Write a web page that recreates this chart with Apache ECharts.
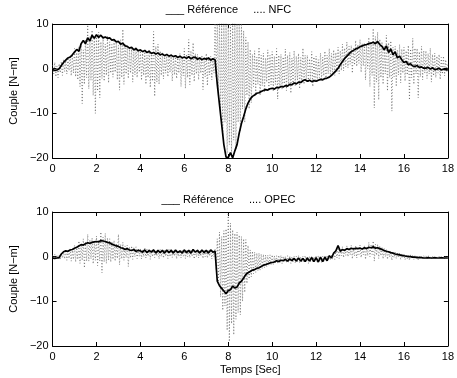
<!DOCTYPE html>
<html>
<head>
<meta charset="utf-8">
<script src="https://cdn.jsdelivr.net/npm/echarts@6/dist/echarts.min.js"></script>
<style>
  html, body { margin: 0; padding: 0; background: #fff; }
  #chart { width: 457px; height: 378px; }
</style>
</head>
<body>
<div id="chart"></div>
<script>
// Sampling grids: reference signals every 0.1 s, controller outputs every 0.05 s
const time = Array.from({ length: 181 }, (_, i) => +(i * 0.1).toFixed(2));
const timeFine = Array.from({ length: 361 }, (_, i) => +(i * 0.05).toFixed(2));

const xTicks = [0, 2, 4, 6, 8, 10, 12, 14, 16, 18];
const yTicks = [-20, -10, 0, 10];

// Upper plot: reference torque (N-m), 0.1 s
const refTop = [
  -0.2, -0.4, -0.3, 0.0, 0.7, 1.4, 1.9, 2.4, 2.6, 3.1,
  3.7, 4.3, 3.9, 5.6, 6.3, 5.6, 6.9, 6.2, 7.5, 6.8,
  7.6, 7.0, 7.5, 6.9, 7.1, 6.8, 6.9, 6.4, 6.5, 6.0,
  6.1, 5.5, 5.7, 5.1, 5.0, 4.6, 4.8, 4.2, 4.5, 4.0,
  4.2, 3.8, 4.1, 3.6, 3.9, 3.4, 3.6, 3.3, 3.5, 3.1,
  3.3, 2.9, 3.2, 2.8, 3.0, 2.7, 2.9, 2.5, 2.8, 2.4,
  2.6, 2.3, 2.7, 2.2, 2.5, 2.6, 2.1, 2.4, 2.0, 2.3,
  2.1, 2.4, 1.9, 2.2, 2.0, -3.5, -8.0, -12.5, -17.0, -19.8,
  -19.9, -18.8, -20.0, -18.4, -17.0, -14.4, -12.3, -10.7, -9.0, -7.7,
  -6.8, -6.2, -5.9, -5.5, -5.4, -5.1, -4.9, -4.7, -4.8, -4.5,
  -4.4, -4.6, -4.2, -4.3, -4.0, -4.1, -3.8, -3.9, -3.5, -3.6,
  -3.2, -3.4, -3.0, -3.1, -2.7, -2.5, -2.8, -2.6, -2.9, -2.7,
  -2.8, -2.6, -2.4, -2.5, -2.2, -2.1, -1.9, -1.5, -1.0, -0.5,
  0.1, 0.9, 1.6, 2.3, 2.8, 3.3, 3.8, 4.1, 4.4, 4.6,
  4.9, 5.1, 5.3, 5.4, 5.6, 5.7, 5.9, 5.6, 6.1, 5.4,
  5.0, 4.2, 5.1, 3.6, 4.4, 3.1, 3.8, 2.4, 2.8, 2.0,
  1.4, 1.6, 0.9, 1.1, 0.6, 0.5, 0.7, 0.3, 0.4, 0.1,
  0.1, 0.3, -0.1, 0.2, -0.2, -0.1, 0.1, -0.3, -0.1, -0.2,
  -0.3
];

// Upper plot: NFC controller torque (N-m), 0.05 s
const nfc = [
  0.8, -1.2, 1.4, -1.8, 0.6, -2.0, 1.1, -0.9, 1.6, -1.5, 2.0, -0.6, 1.8, -1.2, 2.4, -0.4, 2.9, -1.6, 3.2, -1.0,
  4.5, -1.8, 3.6, -2.5, 5.0, -4.0, 5.5, -7.8, 4.2, -3.5, 6.5, -2.0, 9.8, -4.5, 7.2, -2.6, 8.6, -6.0, 7.0, -10.0,
  7.8, -5.0, 8.2, -6.5, 6.0, -2.2, 6.8, -2.8, 5.5, -1.5, 7.4, -3.2, 6.0, -1.0, 5.4, -1.9, 6.2, -0.8, 5.8, -2.5,
  5.2, -4.8, 6.5, -2.0, 8.8, -3.5, 5.6, -1.2, 5.0, -2.2, 4.4, -1.0, 4.6, -3.0, 3.8, -1.4, 4.8, -2.0, 4.0, -0.8,
  4.0, -2.6, 3.4, -1.5, 3.8, -3.5, 3.0, -2.0, 4.2, -4.2, 3.6, -2.8, 8.3, -6.2, 5.0, -3.0, 5.5, -3.5, 4.0, -1.5,
  3.6, -2.3, 3.0, -1.0, 3.2, -1.8, 2.6, -0.8, 3.4, -2.8, 2.8, -1.4, 3.0, -2.2, 2.4, -1.0, 3.4, -4.0, 2.8, -1.6,
  4.5, -4.4, 3.2, -2.0, 6.5, -3.6, 4.0, -1.5, 5.8, -2.9, 3.4, -1.2, 3.2, -2.5, 2.6, -1.0, 3.0, -4.7, 2.4, -1.8,
  3.4, -3.8, 2.6, -1.4, 2.8, -2.5, 2.2, -1.0, 10.5, -2.0, 10.5, -6.0, 10.5, -10.0, 10.5, -15.0, 10.5, -12.0, 10.5, -19.0,
  10.5, -17.0, 10.5, -19.5, 10.5, -16.0, 10.5, -18.0, 10.5, -12.0, 10.5, -14.0, 10.5, -9.0, 8.5, -12.0, 7.0, -6.0, 6.0, -9.0,
  4.3, -7.6, 3.2, -4.0, 4.0, -5.5, 2.6, -3.5, 4.8, -6.0, 3.0, -3.8, 3.5, -5.2, 2.4, -3.0, 4.2, -4.8, 3.0, -3.6,
  3.8, -5.0, 2.8, -3.5, 4.5, -6.8, 3.0, -4.2, 3.2, -4.6, 2.6, -3.4, 4.4, -4.9, 3.0, -3.8, 3.6, -5.5, 2.4, -3.2,
  4.0, -3.8, 2.8, -2.6, 3.4, -4.5, 2.5, -3.0, 4.6, -3.5, 3.0, -2.4, 3.0, -3.2, 2.2, -2.2, 3.8, -4.0, 2.6, -2.5,
  2.8, -3.0, 2.0, -2.0, 3.5, -2.6, 2.6, -1.6, 3.9, -2.4, 3.0, -1.2, 4.5, -1.8, 3.4, -0.8, 4.2, -1.5, 3.6, -0.6,
  4.8, -1.2, 4.0, -0.4, 5.5, -0.5, 4.6, 0.4, 6.0, 0.2, 5.0, 1.0, 5.2, -1.0, 4.6, 0.8, 6.3, 0.5, 5.4, 1.2,
  6.5, -0.8, 5.6, 0.6, 5.8, -2.5, 5.2, 0.0, 7.0, -4.0, 6.0, -1.5, 9.0, -8.8, 7.2, -3.0, 8.2, -7.0, 6.6, -2.0,
  6.0, -3.5, 5.2, -1.2, 7.5, -5.0, 5.8, -2.0, 6.2, -9.5, 4.8, -1.8, 5.0, -4.0, 4.2, -1.4, 5.4, -3.2, 4.4, -1.0,
  4.8, -2.8, 4.0, -1.4, 5.2, -7.0, 4.4, -2.0, 6.8, -3.5, 4.6, -1.2, 4.5, -6.5, 3.8, -1.8, 5.0, -2.5, 4.0, -1.0,
  4.0, -2.2, 3.4, -1.2, 4.6, -3.0, 3.2, -1.6, 3.5, -2.0, 2.8, -1.0, 3.2, -2.4, 2.5, -1.2, 2.8, -1.6, 2.0, -0.8,
  1.0
];

// Lower plot: reference torque (N-m), 0.1 s
const refBottom = [
  -0.3, -0.4, -0.3, -0.2, 0.6, 1.1, 1.3, 1.2, 1.5, 1.6,
  1.9, 2.1, 2.4, 2.7, 2.6, 2.9, 3.1, 3.0, 3.2, 3.3,
  3.4, 3.3, 3.6, 3.5, 3.4, 3.2, 3.1, 2.8, 2.6, 2.4,
  2.3, 2.0, 1.9, 1.6, 1.8, 1.5, 1.4, 1.6, 1.2, 1.4,
  1.3, 1.0, 1.5, 0.9, 1.4, 1.0, 1.5, 0.8, 1.4, 0.9,
  1.4, 0.8, 1.5, 0.9, 1.4, 0.8, 1.5, 0.9, 1.3, 0.8,
  1.5, 0.9, 1.4, 0.8, 1.6, 1.0, 1.4, 0.8, 1.5, 0.9,
  1.4, 0.8, 1.5, 1.0, 1.2, -5.5, -6.5, -7.1, -7.7, -8.3,
  -7.6, -7.4, -6.6, -7.0, -6.8, -5.9, -5.5, -4.8, -4.0, -3.6,
  -3.3, -3.0, -2.9, -2.6, -2.5, -2.2, -1.9, -1.8, -1.6, -1.4,
  -1.3, -1.2, -0.9, -1.1, -0.8, -0.9, -0.6, -1.0, -0.5, -0.9,
  -0.4, -1.0, -0.3, -1.0, -0.4, -1.1, -0.3, -1.0, -0.2, -1.1,
  -0.2, -1.2, -0.1, -1.1, -0.1, -0.9, 0.2, -0.3, 0.8, 1.3,
  2.5, 1.2, 1.6, 1.4, 1.8, 1.6, 1.9, 1.7, 1.9, 1.8,
  1.9, 1.7, 2.0, 1.8, 2.1, 2.0, 2.2, 1.9, 2.0, 1.8,
  1.6, 1.4, 1.2, 1.1, 0.9, 0.8, 0.6, 0.5, 0.4, 0.3,
  0.2, 0.1, 0.0, 0.0, -0.1, -0.1, -0.2, -0.2, -0.2, -0.3,
  -0.3, -0.2, -0.3, -0.3, -0.2, -0.3, -0.3, -0.2, -0.3, -0.3,
  -0.3
];

// Lower plot: OPEC controller torque (N-m), 0.05 s
const opec = [
  0.3, -0.6, 0.5, -0.4, 0.4, -0.5, 0.2, -0.7, 0.8, -0.3, 1.0, -0.5, 1.5, -0.8, 1.2, -0.4, 1.8, -1.0, 1.4, -0.6,
  2.5, -1.2, 2.0, -0.6, 3.5, -1.5, 2.8, -0.8, 4.0, -2.5, 3.2, -1.0, 5.0, -1.0, 3.8, -0.5, 4.2, -1.6, 3.4, -0.8,
  4.6, -2.0, 3.8, -1.0, 5.5, -3.6, 4.4, -1.2, 5.2, -1.5, 4.2, -0.8, 4.0, -1.2, 3.4, -0.6, 3.6, -1.0, 3.0, -0.4,
  5.0, -1.8, 2.8, -0.5, 3.2, -0.8, 2.4, -0.2, 2.6, -2.2, 2.2, -0.3, 2.4, -0.6, 2.0, 0.0, 2.2, -0.4, 1.9, 0.1,
  1.8, -0.5, 1.6, 0.0, 2.0, -0.3, 1.7, 0.1, 1.6, -0.6, 1.5, 0.0, 1.7, -0.2, 1.5, 0.1, 1.5, -0.5, 1.6, 0.0,
  1.6, -0.3, 1.5, 0.1, 1.4, -0.4, 1.6, 0.0, 1.7, -0.2, 1.5, 0.1, 1.5, -0.5, 1.4, 0.0, 1.3, -0.3, 1.5, 0.1,
  1.6, -0.4, 1.4, 0.0, 1.5, -0.2, 1.6, 0.1, 1.4, -0.5, 1.5, 0.0, 1.6, -0.3, 1.4, 0.1, 1.5, -0.4, 1.6, 0.0,
  1.4, -0.3, 1.5, 0.1, 1.6, -0.5, 1.4, 0.0, 1.8, -3.0, 4.0, -6.0, 5.5, -9.0, 4.5, -12.0, 5.8, -11.0, 6.2, -16.5,
  9.8, -19.0, 7.5, -15.0, 6.0, -17.5, 5.2, -14.0, 5.5, -12.5, 4.8, -13.0, 4.5, -10.0, 4.0, -8.0, 3.8, -6.0, 2.5, -5.0,
  1.5, -4.5, 1.2, -3.8, 1.0, -3.5, 0.8, -3.2, 0.8, -3.0, 0.6, -2.6, 0.5, -2.4, 0.4, -2.2, 0.3, -2.0, 0.4, -1.8,
  0.4, -1.8, 0.2, -1.5, 0.2, -1.6, 0.3, -1.3, 0.3, -1.5, 0.1, -1.2, 0.1, -1.4, 0.2, -1.3, 0.2, -1.5, 0.0, -1.2,
  0.0, -1.3, 0.1, -1.1, 0.2, -1.4, 0.0, -1.2, 0.1, -1.2, 0.2, -1.0, 0.0, -1.5, 0.1, -1.2, 0.2, -1.3, 0.0, -1.1,
  0.1, -1.2, 0.2, -1.0, 0.0, -1.4, 0.1, -1.1, 0.2, -1.0, 0.3, -0.8, 0.3, -0.8, 0.5, -0.6, 1.0, -0.6, 1.5, -0.3,
  2.0, -0.4, 1.6, 0.2, 2.2, -0.2, 1.8, 0.3, 2.4, 0.0, 1.9, 0.4, 2.5, -0.5, 2.0, 0.2, 2.3, -0.3, 1.8, 0.5,
  2.6, -0.2, 2.0, 0.4, 2.4, -0.6, 2.2, 0.2, 3.2, 0.0, 2.6, 0.5, 3.5, -1.0, 2.8, 0.3, 2.8, -0.4, 2.4, 0.2,
  2.2, -0.5, 1.8, 0.0, 1.6, -0.6, 1.4, -0.1, 1.2, -0.8, 1.0, -0.2, 1.0, -0.4, 0.8, -0.2, 0.8, -0.6, 0.6, -0.3,
  0.6, -0.7, 0.5, -0.4, 0.5, -0.8, 0.4, -0.3, 0.4, -0.6, 0.3, -0.4, 0.3, -0.7, 0.3, -0.3, 0.2, -0.6, 0.2, -0.4,
  0.2, -0.5, 0.1, -0.3, 0.1, -0.6, 0.1, -0.4, 0.1, -0.5, 0.0, -0.3, 0.0, -0.4, 0.0, -0.5, 0.0, -0.5, 0.0, -0.3,
  -0.2
];

const FONT = '"Liberation Sans", Arial, Helvetica, sans-serif';
const minus = v => String(v).replace('-', '\u2212');
const pairs = (ts, vals) => ts.map((t, i) => [t, vals[i]]);

const tickStyle = { show: true, inside: true, length: 4, lineStyle: { color: '#000', width: 1 } };
const lineStyle = { show: true, onZero: false, lineStyle: { color: '#000', width: 1 } };

function xAxes(grid, withName) {
  return [
    {
      type: 'value', gridIndex: grid, min: 0, max: 18, interval: 2, position: 'bottom',
      axisLine: lineStyle, axisTick: tickStyle, splitLine: { show: false },
      axisLabel: { color: '#000', fontFamily: FONT, fontSize: 11, margin: 5 },
      name: withName ? 'Temps [Sec]' : '', nameLocation: 'middle', nameGap: 18,
      nameTextStyle: { color: '#000', fontFamily: FONT, fontSize: 11 }
    },
    {
      type: 'value', gridIndex: grid, min: 0, max: 18, interval: 2, position: 'top',
      axisLine: lineStyle, axisTick: tickStyle, splitLine: { show: false },
      axisLabel: { show: false }
    }
  ];
}

function yAxes(grid) {
  return [
    {
      type: 'value', gridIndex: grid, min: -20, max: 10, interval: 10, position: 'left',
      axisLine: lineStyle, axisTick: tickStyle, splitLine: { show: false },
      axisLabel: { color: '#000', fontFamily: FONT, fontSize: 11, margin: 4, formatter: minus },
      name: 'Couple [N\u2212m]', nameLocation: 'middle', nameGap: 23,
      nameTextStyle: { color: '#000', fontFamily: FONT, fontSize: 11 }
    },
    {
      type: 'value', gridIndex: grid, min: -20, max: 10, interval: 10, position: 'right',
      axisLine: lineStyle, axisTick: tickStyle, splitLine: { show: false },
      axisLabel: { show: false }
    }
  ];
}

function solid(vals, axis) {
  return {
    type: 'line', xAxisIndex: axis, yAxisIndex: axis, data: pairs(time, vals),
    showSymbol: false, clip: true, z: 3,
    lineStyle: { color: '#000', width: 1.7 }
  };
}

function dotted(vals, axis) {
  return {
    type: 'line', xAxisIndex: axis, yAxisIndex: axis, data: pairs(timeFine, vals),
    showSymbol: false, clip: true, z: 2,
    lineStyle: { color: '#555', width: 0.7, type: [1, 2] }
  };
}

function legendText(top, label) {
  return {
    type: 'text', left: 'center', top: top,
    style: {
      text: '___ R\u00e9f\u00e9rence     .... ' + label,
      fill: '#000', font: '11px ' + FONT
    }
  };
}

const chart = echarts.init(document.getElementById('chart'), null, { renderer: 'canvas' });
chart.setOption({
  animation: false,
  backgroundColor: '#fff',
  textStyle: { fontFamily: FONT },
  grid: [
    { left: 43, top: 24, width: 409, height: 134 },
    { left: 43, top: 212, width: 409, height: 134 }
  ],
  xAxis: [...xAxes(0, false), ...xAxes(1, true)],
  yAxis: [...yAxes(0), ...yAxes(1)],
  graphic: [legendText(4, 'NFC'), legendText(194, 'OPEC')],
  series: [
    dotted(nfc, 0),
    solid(refTop, 0),
    dotted(opec, 2),
    solid(refBottom, 2)
  ]
});
</script>
</body>
</html>
